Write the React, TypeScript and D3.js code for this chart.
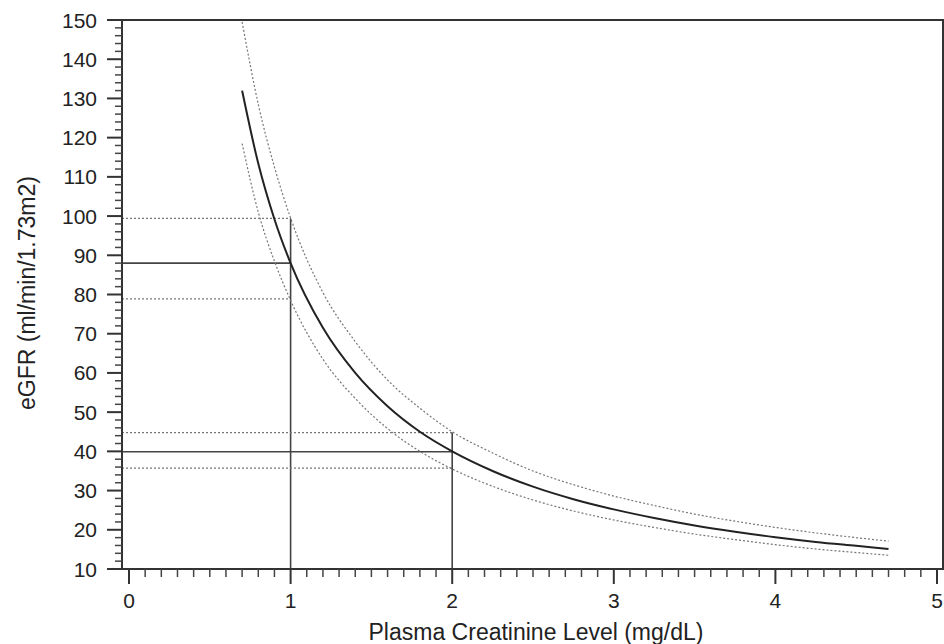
import * as d3 from "d3";

// values
const creatinine = [0.7, 0.8, 0.9, 1.0, 1.2, 1.4, 1.6, 1.8, 2.0, 2.25, 2.5, 2.75, 3.0, 3.25, 3.5, 3.75, 4.0, 4.25, 4.5, 4.7];
const egfrMean = [132, 113.4, 99.2, 88, 71.5, 60, 51.5, 45, 40, 35, 31, 27.8, 25.2, 23, 21.1, 19.5, 18.1, 16.9, 15.9, 15.1];
const egfrUpper = [149.5, 128.5, 112.5, 99.5, 80.5, 68, 58.2, 51, 45, 39.6, 35, 31.5, 28.6, 26.2, 24, 22.2, 20.6, 19.2, 18, 17.1];
const egfrLower = [118.5, 101, 88.5, 78.5, 63.5, 53.5, 45.8, 40, 35.5, 31.1, 27.6, 24.8, 22.5, 20.6, 18.9, 17.5, 16.2, 15.1, 14.2, 13.5];

// reference readings at creatinine 1 and 2
const refX = [1, 2];
const refMean = [88, 39.9];
const refUpper = [99.4, 44.8];
const refLower = [78.9, 35.7];

const xTicks = [0, 1, 2, 3, 4, 5];
const yTicks = [10, 20, 30, 40, 50, 60, 70, 80, 90, 100, 110, 120, 130, 140, 150];

const W = 944;
const H = 644;
const box = { left: 122, right: 943, top: 20, bottom: 569 };
const font = "Liberation Sans, Arial, Helvetica, sans-serif";

export default function App() {
  const x = d3.scaleLinear().domain([0, 5]).range([129, 937]);
  const y = d3.scaleLinear().domain([10, 150]).range([box.bottom, box.top]);

  const line = d3
    .line<number>()
    .x((_, i) => x(creatinine[i]))
    .y((d) => y(d))
    .curve(d3.curveMonotoneX);

  const xMinor = d3.range(0, 51).map((i) => i / 10).filter((v) => !xTicks.includes(v));
  const yMinor = d3.range(10, 151, 2).filter((v) => v % 10 !== 0);

  return (
    <svg width={W} height={H} style={{ position: "absolute", left: 0, top: 0, background: "#fff" }}>
      {/* reference lines */}
      {refX.map((cx, i) => (
        <g key={`ref-${cx}`}>
          <line x1={box.left} x2={x(cx)} y1={y(refUpper[i])} y2={y(refUpper[i])} stroke="#777" strokeWidth={1.2} strokeDasharray="2,2" />
          <line x1={box.left} x2={x(cx)} y1={y(refLower[i])} y2={y(refLower[i])} stroke="#777" strokeWidth={1.2} strokeDasharray="2,2" />
          <line x1={box.left} x2={x(cx)} y1={y(refMean[i])} y2={y(refMean[i])} stroke="#444" strokeWidth={1.6} />
          <line x1={x(cx)} x2={x(cx)} y1={box.bottom} y2={y(refUpper[i])} stroke="#444" strokeWidth={1.6} />
        </g>
      ))}

      {/* confidence band and mean curve */}
      <path d={line(egfrUpper) ?? ""} fill="none" stroke="#777" strokeWidth={1.2} strokeDasharray="2,2" />
      <path d={line(egfrLower) ?? ""} fill="none" stroke="#777" strokeWidth={1.2} strokeDasharray="2,2" />
      <path d={line(egfrMean) ?? ""} fill="none" stroke="#222" strokeWidth={2} />

      {/* frame */}
      <rect x={box.left} y={box.top} width={box.right - box.left} height={box.bottom - box.top} fill="none" stroke="#333" strokeWidth={2} />

      {/* x axis ticks */}
      {xMinor.map((v) => (
        <line key={`xm-${v}`} x1={x(v)} x2={x(v)} y1={box.bottom} y2={box.bottom + 8} stroke="#444" strokeWidth={1.5} />
      ))}
      {xTicks.map((v) => (
        <g key={`xt-${v}`}>
          <line x1={x(v)} x2={x(v)} y1={box.bottom} y2={box.bottom + 15} stroke="#333" strokeWidth={2} />
          <text x={x(v)} y={608} textAnchor="middle" fontFamily={font} fontSize={21} fill="#222">
            {v}
          </text>
        </g>
      ))}

      {/* y axis ticks */}
      {yMinor.map((v) => (
        <line key={`ym-${v}`} x1={box.left - 7} x2={box.left} y1={y(v)} y2={y(v)} stroke="#444" strokeWidth={1.5} />
      ))}
      {yTicks.map((v) => (
        <g key={`yt-${v}`}>
          <line x1={box.left - 15} x2={box.left} y1={y(v)} y2={y(v)} stroke="#333" strokeWidth={2} />
          <text x={97} y={y(v) + 7.5} textAnchor="end" fontFamily={font} fontSize={21} fill="#222">
            {v}
          </text>
        </g>
      ))}

      {/* axis titles */}
      <text x={536} y={640} textAnchor="middle" fontFamily={font} fontSize={23} fill="#222">
        Plasma Creatinine Level (mg/dL)
      </text>
      <text transform="translate(35,293) rotate(-90)" textAnchor="middle" fontFamily={font} fontSize={23} fill="#222">
        eGFR (ml/min/1.73m2)
      </text>
    </svg>
  );
}
